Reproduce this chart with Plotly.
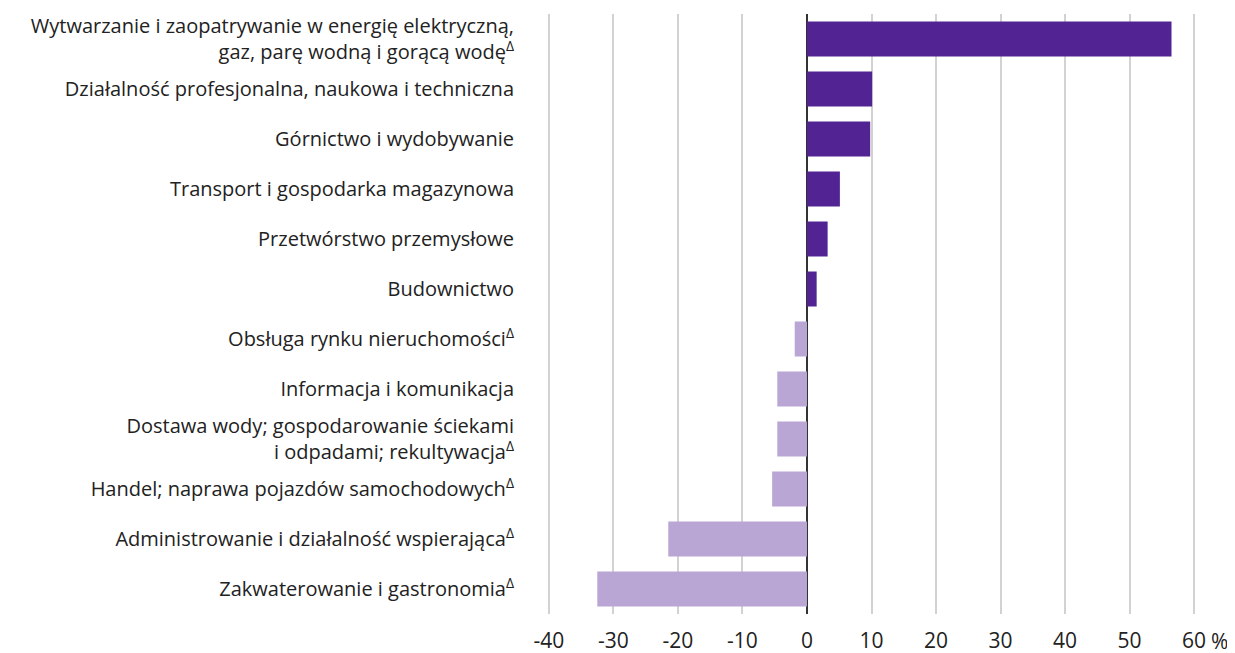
import plotly.graph_objects as go

# Sections, top to bottom as in the chart
categories = [
    'Wytwarzanie i zaopatrywanie w energię elektryczną,<br>gaz, parę wodną i gorącą wodę<sup>Δ</sup>',
    'Działalność profesjonalna, naukowa i techniczna',
    'Górnictwo i wydobywanie',
    'Transport i gospodarka magazynowa',
    'Przetwórstwo przemysłowe',
    'Budownictwo',
    'Obsługa rynku nieruchomości<sup>Δ</sup>',
    'Informacja i komunikacja',
    'Dostawa wody; gospodarowanie ściekami<br>i odpadami; rekultywacja<sup>Δ</sup>',
    'Handel; naprawa pojazdów samochodowych<sup>Δ</sup>',
    'Administrowanie i działalność wspierająca<sup>Δ</sup>',
    'Zakwaterowanie i gastronomia<sup>Δ</sup>',
]
values = [56.5, 10.1, 9.8, 5.1, 3.2, 1.5, -1.9, -4.6, -4.6, -5.4, -21.5, -32.5]

tick_vals = [-40, -30, -20, -10, 0, 10, 20, 30, 40, 50, 60]
tick_text = ['-40', '-30', '-20', '-10', '0', '10', '20', '30', '40', '50', '60']

COLORS = {'pos': '#522493', 'neg': '#b9a6d5', 'text': '#222222', 'grid': '#d2d2d2'}
FONT = 'Open Sans'

bar_colors = [COLORS['pos'] if v >= 0 else COLORS['neg'] for v in values]

fig = go.Figure(go.Bar(
    x=values,
    y=categories,
    orientation='h',
    marker=dict(color=bar_colors, line=dict(width=0)),
    width=0.7,
))

fig.update_layout(
    width=1235,
    height=653,
    margin=dict(l=528, r=36, t=6, b=47),
    paper_bgcolor='white',
    plot_bgcolor='white',
    font=dict(family=FONT, size=20, color=COLORS['text']),
    showlegend=False,
    xaxis=dict(
        range=[-42, 62],
        tickvals=tick_vals,
        ticktext=tick_text,
        showgrid=True,
        gridcolor=COLORS['grid'],
        gridwidth=1.5,
        zeroline=True,
        zerolinecolor='#333333',
        zerolinewidth=2,
        showline=False,
        ticks='',
        ticklabelstandoff=12,
        tickfont=dict(size=21),
        automargin=False,
    ),
    yaxis=dict(
        autorange='reversed',
        showgrid=False,
        showline=False,
        ticks='',
        ticklabelstandoff=21,
        tickfont=dict(size=20),
        automargin=False,
    ),
)

# percent sign after the last tick label
fig.add_annotation(
    x=60, y=0, xref='x', yref='paper',
    text='%', showarrow=False,
    xanchor='left', yanchor='middle',
    xshift=15, yshift=-27,
    font=dict(family=FONT, size=21, color=COLORS['text']),
)

fig.write_html('out.html')
